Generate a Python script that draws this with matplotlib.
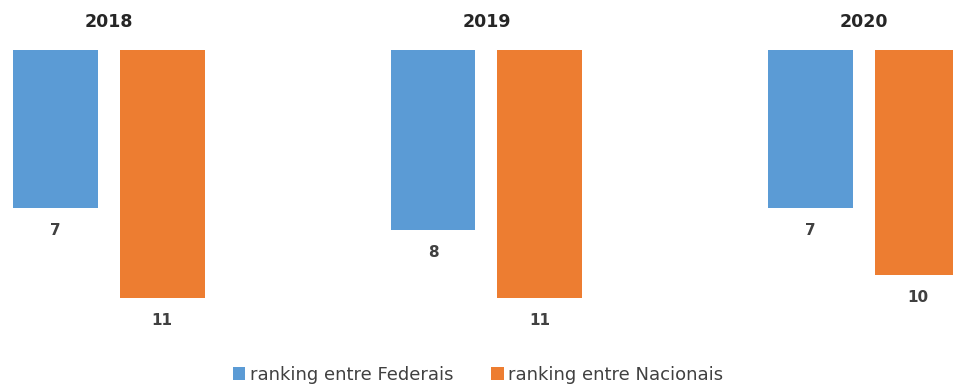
import matplotlib
matplotlib.use("Agg")
import matplotlib.pyplot as plt
import numpy as np

years = ["2018", "2019", "2020"]
federais = [7, 8, 7]
nacionais = [11, 11, 10]
series_names = ["ranking entre Federais", "ranking entre Nacionais"]
colors = ["#5B9BD5", "#ED7D31"]

fig = plt.figure(figsize=(9.54, 3.88), dpi=100)
# axes: top edge at rank 0, inverted so bars hang down
ax = fig.add_axes([0, 1 - 340 / 388, 1, 290 / 388])
ax.set_xlim(-0.288, 2.238)
ax.set_ylim(290 / 22.5, 0)

x = np.arange(len(years))
width = 0.225
offset = 0.1415

for vals, dx, color, name in [(federais, -offset, colors[0], series_names[0]),
                              (nacionais, offset, colors[1], series_names[1])]:
    bars = ax.bar(x + dx, vals, width=width, color=color, label=name)
    for b, v in zip(bars, vals):
        ax.annotate(str(v), (b.get_x() + b.get_width() / 2, v),
                    xytext=(0, -16.5), textcoords="offset points",
                    ha="center", va="center", fontsize=11, fontweight="bold",
                    color="#404040")

# year labels above each group
for xi, yr in zip(x, years):
    ax.annotate(yr, (xi, 0), xytext=(0, 20), textcoords="offset points",
                ha="center", va="center", fontsize=12.5, fontweight="bold",
                color="#262626", annotation_clip=False)

for s in ax.spines.values():
    s.set_visible(False)
ax.set_xticks([])
ax.set_yticks([])

fig.legend(loc="center", bbox_to_anchor=(478 / 954, 1 - 375 / 388),
           ncol=2, frameon=False, fontsize=13, handlelength=0.7,
           handleheight=0.7, handletextpad=0.25, columnspacing=2.1,
           labelcolor="#404040", borderpad=0)

fig.savefig("out.png", dpi=100)
